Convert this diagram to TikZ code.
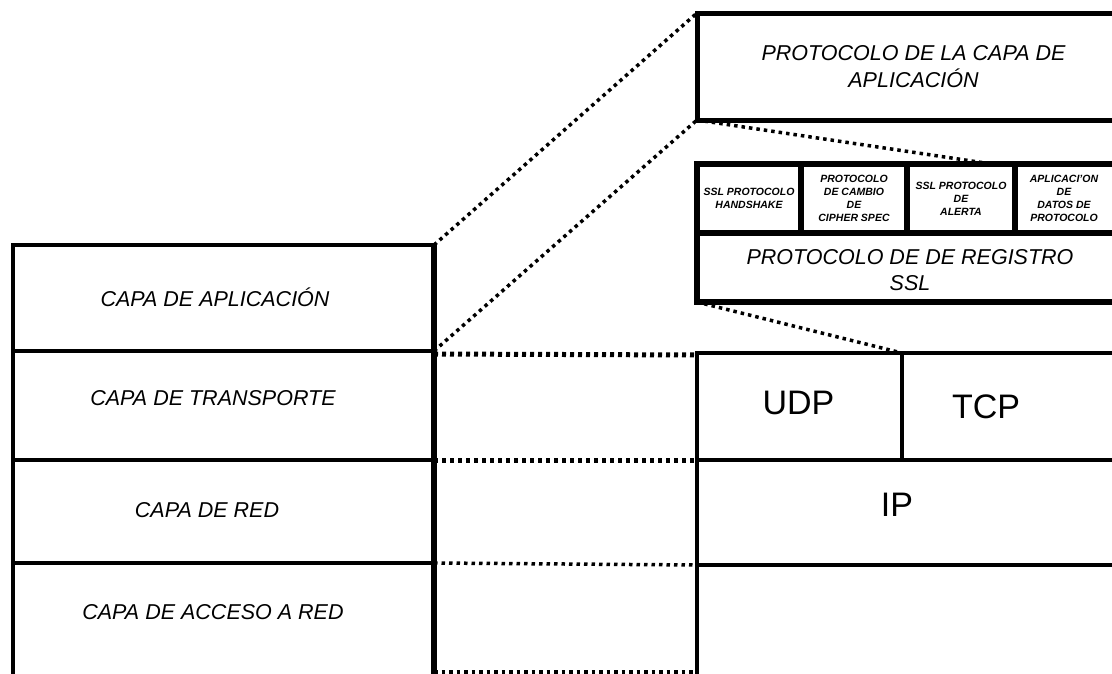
\documentclass[tikz,border=0pt]{standalone}
\usepackage{fontspec}
\setmainfont{Liberation Sans}
\begin{document}
\begin{tikzpicture}[x=1pt,y=-1pt,
  box/.style={draw, rectangle, line width=4.6pt, inner sep=0pt, outer sep=0pt},
  sslbox/.style={box, line width=5.5pt},
  lbl/.style={font=\fontsize{21.5}{26.5}\selectfont\itshape, align=center},
  big/.style={font=\fontsize{34}{40}\selectfont},
  tiny/.style={font=\fontsize{10.5}{13}\selectfont\bfseries\itshape, align=center},
  dotline/.style={line width=3.5pt, dash pattern=on 3.5pt off 4pt},
  dotthick/.style={line width=5pt, dash pattern=on 4pt off 4pt}]
\useasboundingbox (0,0) rectangle (1112,673);

% left stack
\node[box, minimum width=421pt, minimum height=106pt,
  label={[lbl,xshift=-8.5pt,yshift=1pt]center:CAPA DE APLICACIÓN}] (la) at (223.5,298) {};
\node[box, minimum width=421pt, minimum height=109pt,
  label={[lbl,xshift=-10.5pt,yshift=7.5pt]center:CAPA DE TRANSPORTE}] (lt) at (223.5,405.5) {};
\node[box, minimum width=421pt, minimum height=103pt,
  label={[lbl,xshift=-16.5pt,yshift=1.5pt]center:CAPA DE RED}] (lr) at (223.5,511.5) {};
\node[box, minimum width=421pt, minimum height=117pt,
  label={[lbl,xshift=-10.5pt,yshift=9.5pt]center:CAPA DE ACCESO A RED}] (lacc) at (223.5,621.5) {};
\draw[line width=6pt] (la.north east) -- (lacc.south east);

% application protocol box
\node[box, lbl, line width=5pt, minimum width=433pt, minimum height=107pt] (apl) at (913.5,66.5)
  {PROTOCOLO DE LA CAPA DE\\APLICACIÓN};

% SSL stack
\node[sslbox, tiny, minimum width=104pt, minimum height=69pt] (h1) at (749,198.5)
  {SSL PROTOCOLO\\HANDSHAKE};
\node[sslbox, tiny, minimum width=106pt, minimum height=69pt] (h2) at (854,198.5)
  {PROTOCOLO\\DE CAMBIO\\DE\\CIPHER SPEC};
\node[sslbox, tiny, minimum width=108pt, minimum height=69pt] (h3) at (961,198.5)
  {SSL PROTOCOLO\\DE\\ALERTA};
\node[sslbox, minimum width=115pt, minimum height=69pt,
  label={[tiny,xshift=-8.5pt]center:APLICACI'ON\\DE\\DATOS DE\\PROTOCOLO}] (h4) at (1072.5,198.5) {};
\node[sslbox, minimum width=433pt, minimum height=69pt,
  label={[lbl,xshift=-3.5pt,yshift=-2.5pt]center:PROTOCOLO DE DE REGISTRO\\SSL}] (reg) at (913.5,267.5) {};

% TCP/IP stack
\node[box, minimum width=205pt, minimum height=107pt,
  label={[big,xshift=-1pt,yshift=3.5pt]center:UDP}] (udp) at (799.5,406.5) {};
\node[box, minimum width=228pt, minimum height=107pt,
  label={[big,xshift=-30pt,yshift=-0.5pt]center:TCP}] (tcp) at (1016,406.5) {};
\node[box, minimum width=433pt, minimum height=105pt,
  label={[big,xshift=-16.5pt,yshift=7.5pt]center:IP}] (ip) at (913.5,512.5) {};
\node[box, minimum width=433pt, minimum height=115pt] (acc) at (913.5,622.5) {};

% dotted connectors
\coordinate (c1) at (985,163);
\coordinate (bl) at (0,672);
\draw[dotline] (la.north east) -- (apl.north west);
\draw[dotline] (la.south east) -- (apl.south west);
\draw[dotline] (apl.south west) -- (c1);
\draw[dotline] (reg.south west) -- (udp.north east);
\draw[dotthick] ([yshift=-3pt]lt.north east) -- ([yshift=-2pt]udp.north west);
\draw[dotthick] (lr.north east) -- (ip.north west);
\draw[dotline] (lacc.north east) -- (acc.north west);
\draw[dotline] (lacc.east |- bl) -- (acc.west |- bl);
\end{tikzpicture}
\end{document}
